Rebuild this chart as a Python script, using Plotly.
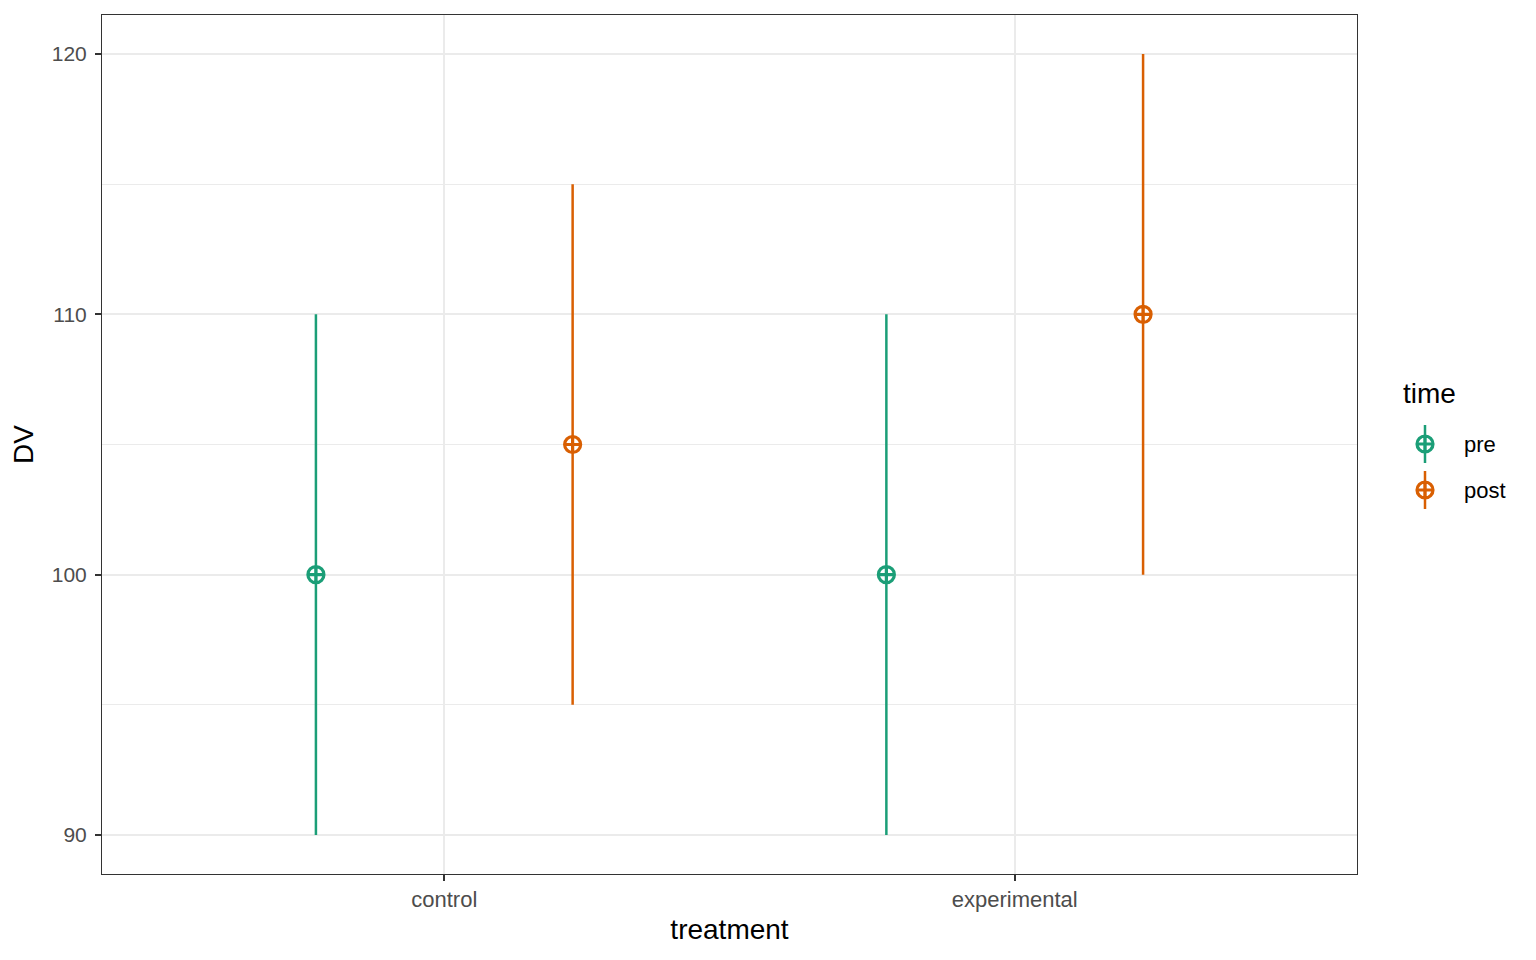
import plotly.graph_objects as go

# ---- data ----
treatments = ["control", "experimental"]
times = ["pre", "post"]
colors = ["#1B9E77", "#D95F02"]
means = {"pre": [100, 100], "post": [105, 110]}
lower = {"pre": [90, 90], "post": [95, 100]}
upper = {"pre": [110, 110], "post": [115, 120]}
y_ticks = [90, 100, 110, 120]

dodge = 0.9
OFF = 8  # page body margin
W, H = 1536 - 2 * OFF, 960 - 2 * OFF
ml, mt = 102 - OFF, 15 - OFF
mb = H - (874 - OFF)
mr = 10
pw = W - ml - mr
ph = H - mt - mb
panel_right = 1357 - OFF
xdom_end = (panel_right - ml) / pw

FONT = "Liberation Sans, Arial, Helvetica"

fig = go.Figure()

base_x = list(range(1, len(treatments) + 1))
for i, t in enumerate(times):
    off = (i - (len(times) - 1) / 2) * dodge / len(times)
    xs = [b + off for b in base_x]
    fig.add_trace(go.Scatter(
        x=xs, y=means[t], mode="markers", showlegend=False,
        marker=dict(symbol="circle-cross-open", size=16, color=colors[i],
                    line=dict(width=3.2, color=colors[i])),
        error_y=dict(type="data", symmetric=False,
                     array=[u - m for u, m in zip(upper[t], means[t])],
                     arrayminus=[m - l for m, l in zip(means[t], lower[t])],
                     color=colors[i], thickness=2.5, width=0),
    ))

# ---- manual legend (glyphs on helper axes) ----
leg_dom_y = (0.3, 0.7)
leg_h_px = (leg_dom_y[1] - leg_dom_y[0]) * ph
leg_bottom_px = H - mb - leg_dom_y[0] * ph
leg_item_px = [444 - OFF, 490 - OFF]
leg_glyph_x_px = 1425 - OFF
leg_text_x_px = 1462 - OFF
leg_title_px = (1401 - OFF, 393 - OFF)
gx0 = (leg_glyph_x_px - 20 - ml) / pw
gx1 = (leg_glyph_x_px + 20 - ml) / pw
for i, t in enumerate(times):
    yy = leg_bottom_px - leg_item_px[i]
    fig.add_trace(go.Scatter(
        x=[0.5], y=[yy], mode="markers", showlegend=False, hoverinfo="skip",
        xaxis="x2", yaxis="y2",
        marker=dict(symbol="circle-cross-open", size=16, color=colors[i],
                    line=dict(width=3.2, color=colors[i])),
        error_y=dict(type="constant", value=19, color=colors[i], thickness=2.5, width=0),
    ))
    fig.add_annotation(text=t, xref="paper", yref="paper",
                       x=(leg_text_x_px - ml) / pw, y=(H - mb - leg_item_px[i]) / ph,
                       xanchor="left", yanchor="middle", showarrow=False,
                       font=dict(size=22, color="black", family=FONT))
fig.add_annotation(text="time", xref="paper", yref="paper",
                   x=(leg_title_px[0] - ml) / pw, y=(H - mb - leg_title_px[1]) / ph,
                   xanchor="left", yanchor="middle", showarrow=False,
                   font=dict(size=28, color="black", family=FONT))

fig.update_layout(
    width=W, height=H,
    margin=dict(l=ml, r=mr, t=mt, b=mb, pad=0),
    paper_bgcolor="white", plot_bgcolor="white",
    font=dict(family=FONT, color="#4D4D4D"),
    xaxis=dict(
        domain=[0, xdom_end], range=[0.4, 2.6],
        tickvals=base_x, ticktext=treatments,
        showgrid=True, gridcolor="#EBEBEB", gridwidth=2.2,
        zeroline=False, showline=True, linecolor="#333333", linewidth=1, mirror=True,
        ticks="outside", ticklen=6, tickcolor="#333333", tickwidth=1.5,
        tickfont=dict(size=22, color="#4D4D4D"),
        title=dict(text="treatment", font=dict(size=28, color="black"), standoff=7),
    ),
    yaxis=dict(
        range=[88.5, 121.5], tickvals=y_ticks,
        showgrid=True, gridcolor="#EBEBEB", gridwidth=2.2,
        minor=dict(dtick=5, tick0=85, showgrid=True, gridcolor="#EBEBEB", gridwidth=1.1, ticks=""),
        zeroline=False, showline=True, linecolor="#333333", linewidth=1, mirror=True,
        ticks="outside", ticklen=6, tickcolor="#333333", tickwidth=1.5,
        ticklabelstandoff=4,
        tickfont=dict(size=21, color="#4D4D4D"),
        title=dict(text="DV", font=dict(size=28, color="black"), standoff=12),
    ),
    xaxis2=dict(domain=[gx0, gx1], range=[0, 1], visible=False, fixedrange=True),
    yaxis2=dict(domain=list(leg_dom_y), range=[0, leg_h_px], visible=False, fixedrange=True,
                anchor="x2"),
)

fig.write_html("out.html")
